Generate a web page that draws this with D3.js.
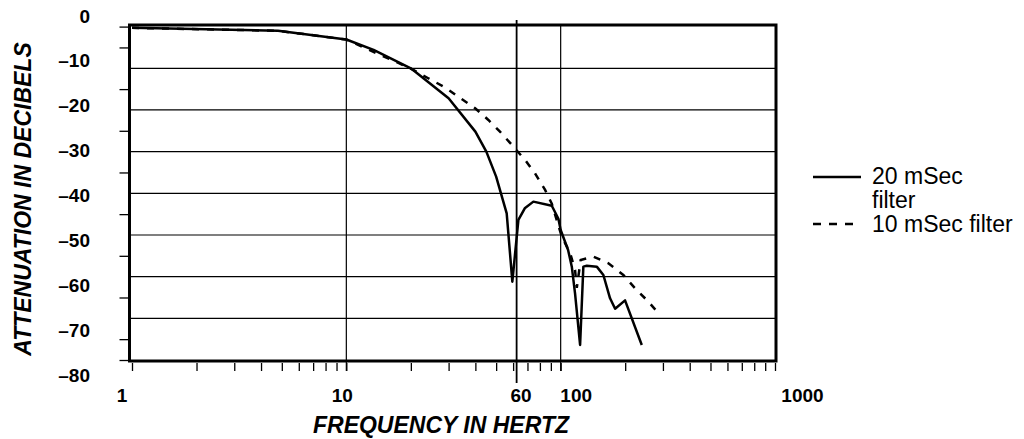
<!DOCTYPE html>
<html>
<head>
<meta charset="utf-8">
<script src="https://cdn.jsdelivr.net/npm/d3@7"></script>
<style>
  body { margin: 0; background: #fff; }
  svg { display: block; font-family: "Liberation Sans", Arial, sans-serif; }
</style>
</head>
<body>
<svg id="chart" width="1024" height="439"></svg>
<script>
// 20 mSec filter
const freq20 = [1, 4.8, 10, 13.4, 20, 30, 40, 45, 50, 56, 59.5, 63.5, 68, 74.6, 90.9, 97.6, 100, 108.3, 112.7, 116.7, 123.2, 127.6, 132.4, 147.4, 158.2, 170, 179.5, 199.7, 239]
const atten20 = [-0.3, -1.0, -3.1, -5.6, -10, -17.2, -25.2, -30, -36, -44.8, -61.2, -46.4, -43.6, -42, -43, -46.1, -48.8, -53.6, -57.6, -64, -76.4, -57.6, -57.4, -57.6, -59.6, -65.2, -67.7, -65.7, -76.4]

// 10 mSec filter
const freq10 = [1, 4.8, 10, 14.4, 17.5, 20.9, 24.1, 28.9, 33.7, 39.9, 46, 52.1, 60.2, 68.2, 75.9, 84.6, 90.9, 101.2, 110.6, 116.7, 118.9, 124, 142, 167, 196, 222.5, 256.6, 291]
const atten10 = [-0.3, -1.0, -3.1, -6.8, -8.7, -10.6, -12.4, -14.6, -17, -19.6, -22.4, -25.2, -28.8, -32, -35.2, -39.2, -42.5, -50.4, -54.3, -58.4, -62.7, -56, -55.2, -56.8, -59.6, -62.8, -66, -69.2]

const xTickLabels = [1, 10, 60, 100, 1000]
const xGridValues = [10, 100]
const markerFreq = 60
const yTickLabels = [0, -10, -20, -30, -40, -50, -60, -70, -80]
const yGridValues = [-10, -20, -30, -40, -50, -60, -70]
const yTickValues = [0, -5, -15, -25, -35, -45, -55, -65, -75, -80]
const legendLines = [['20 mSec', 'filter'], ['10 mSec filter']]

const frame = { left: 129.5, right: 776, top: 25, bottom: 361 }
// the printed labels sit a little off their ticks
const xLabelShift = { 1: -10, 10: -4, 60: 8, 100: 15.5, 1000: 27.5 }

const svg = d3.select('#chart')

svg.append('rect')
    .attr('width', 1024)
    .attr('height', 439)
    .attr('fill', '#fff')

const x = d3.scaleLog()
    .domain([1, 1000])
    .range([132, 775])

const y = d3.scaleLinear()
    .domain([-80, 0])
    .range([360, 26.6])

// tick labels are spread a bit wider than the grid
const yLab = d3.scaleLinear()
    .domain([-80, 0])
    .range([375, 16])

// grid lines
svg.selectAll('.hgrid')
    .data(yGridValues)
    .join('line')
    .attr('x1', frame.left)
    .attr('x2', frame.right)
    .attr('y1', d => y(d))
    .attr('y2', d => y(d))
    .attr('stroke', '#000')
    .attr('stroke-width', 1.2)

svg.selectAll('.vgrid')
    .data(xGridValues)
    .join('line')
    .attr('x1', d => x(d))
    .attr('x2', d => x(d))
    .attr('y1', frame.top)
    .attr('y2', 371)
    .attr('stroke', '#000')
    .attr('stroke-width', 1.2)

// 60 Hz marker
svg.append('line')
    .attr('x1', x(markerFreq) + 3.5)
    .attr('x2', x(markerFreq) + 3.5)
    .attr('y1', 20)
    .attr('y2', 383)
    .attr('stroke', '#000')
    .attr('stroke-width', 1.8)

// curves
const line = d3.line()
    .x(d => x(d[0]))
    .y(d => y(d[1]))

svg.append('path')
    .datum(d3.zip(freq10, atten10))
    .attr('d', line)
    .attr('fill', 'none')
    .attr('stroke', '#000')
    .attr('stroke-width', 2.5)
    .attr('stroke-dasharray', '7,8')

svg.append('path')
    .datum(d3.zip(freq20, atten20))
    .attr('d', line)
    .attr('fill', 'none')
    .attr('stroke', '#000')
    .attr('stroke-width', 2.5)
    .attr('stroke-linejoin', 'round')

// frame
svg.append('rect')
    .attr('x', frame.left)
    .attr('y', frame.top)
    .attr('width', frame.right - frame.left)
    .attr('height', frame.bottom - frame.top)
    .attr('fill', 'none')
    .attr('stroke', '#000')
    .attr('stroke-width', 3)

// axes ticks
const xAxis = d3.axisBottom(x)
    .tickValues(x.ticks())
    .tickSize(8)
    .tickFormat('')

svg.append('g')
    .attr('transform', 'translate(0, 363)')
    .call(xAxis)
    .call(g => g.select('.domain').remove())
    .call(g => g.selectAll('.tick line').attr('stroke-width', 1.3))

const yAxis = d3.axisLeft(y)
    .tickValues(yTickValues)
    .tickSize(10)
    .tickFormat('')

svg.append('g')
    .attr('transform', `translate(${frame.left}, 0)`)
    .call(yAxis)
    .call(g => g.select('.domain').remove())
    .call(g => g.selectAll('.tick line').attr('stroke-width', 1.3))

// tick labels
svg.selectAll('.xlabel')
    .data(xTickLabels)
    .join('text')
    .attr('x', d => x(d) + xLabelShift[d])
    .attr('y', 402)
    .attr('text-anchor', 'middle')
    .attr('font-size', 19)
    .attr('font-weight', 'bold')
    .text(d => d)

svg.selectAll('.ylabel')
    .data(yTickLabels)
    .join('text')
    .attr('x', 90)
    .attr('y', d => yLab(d) + 6.5)
    .attr('text-anchor', 'end')
    .attr('font-size', 19)
    .attr('font-weight', 'bold')
    .text(d => d < 0 ? '\u2013' + Math.abs(d) : d)

// titles
svg.append('text')
    .attr('x', 441)
    .attr('y', 433)
    .attr('text-anchor', 'middle')
    .attr('font-size', 23)
    .attr('font-weight', 'bold')
    .attr('font-style', 'italic')
    .text('FREQUENCY IN HERTZ')

svg.append('text')
    .attr('transform', 'translate(31, 199) rotate(-90)')
    .attr('text-anchor', 'middle')
    .attr('font-size', 23)
    .attr('font-weight', 'bold')
    .attr('font-style', 'italic')
    .text('ATTENUATION IN DECIBELS')

// legend
const legend = svg.append('g')

legend.append('line')
    .attr('x1', 813).attr('x2', 861)
    .attr('y1', 177).attr('y2', 177)
    .attr('stroke', '#000')
    .attr('stroke-width', 2.5)

legend.append('line')
    .attr('x1', 813).attr('x2', 861)
    .attr('y1', 224).attr('y2', 224)
    .attr('stroke', '#000')
    .attr('stroke-width', 2.5)
    .attr('stroke-dasharray', '8,8')

legendLines.flat().forEach((t, i) => {
    legend.append('text')
        .attr('x', 872)
        .attr('y', 184 + i * 24)
        .attr('font-size', 23)
        .text(t)
})
</script>
</body>
</html>
